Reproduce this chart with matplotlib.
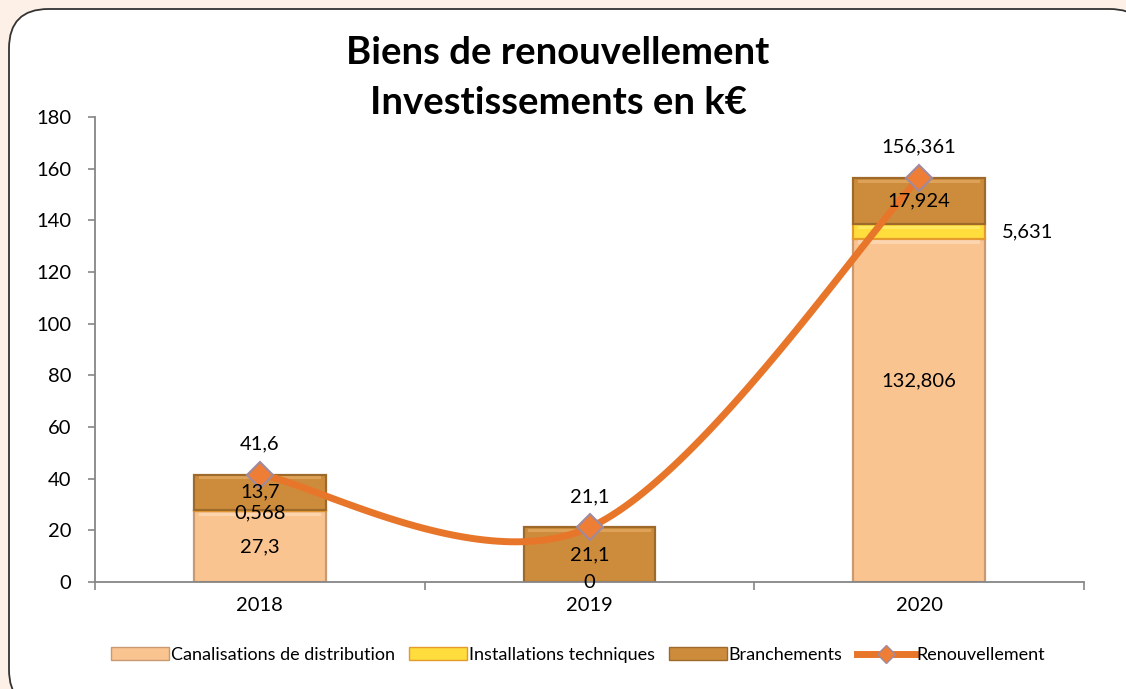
import matplotlib
matplotlib.use("Agg")
import matplotlib.pyplot as plt
import numpy as np
from matplotlib.patches import FancyBboxPatch, Patch
from matplotlib.lines import Line2D

plt.rcParams['font.family'] = ['Lato', 'DejaVu Sans']

years = ["2018", "2019", "2020"]
canalisations = [27.3, 0.0, 132.806]
installations = [0.568, 0.0, 5.631]
branchements = [13.7, 21.1, 17.924]
renouvellement = [41.6, 21.1, 156.361]

lab_can = ["27,3", "0", "132,806"]
lab_inst = ["0,568", "", "5,631"]
lab_br = ["13,7", "21,1", "17,924"]
lab_tot = ["41,6", "21,1", "156,361"]

c_can = "#FAC491"
c_inst = "#FFDD3C"
c_br = "#CD8C3C"
c_line = "#E8762A"

fig = plt.figure(figsize=(11.26, 6.89), dpi=100, facecolor="#FDF0E7")
box = FancyBboxPatch((9/1126, -20/689), 1140/1126, 700/689,
                     boxstyle="round,pad=0,rounding_size=0.035",
                     transform=fig.transFigure, facecolor="white",
                     edgecolor="#333333", linewidth=1.3, zorder=-5,
                     mutation_aspect=1126/689)
fig.patches.append(box)

ax = fig.add_axes([95/1126, 107/689, (1084-95)/1126, (582-117)/689])
ax.set_zorder(2)
ax.set_facecolor("none")
x = np.arange(len(years))
w = 0.4

can = np.array(canalisations)
inst = np.array(installations)
br = np.array(branchements)

def bevel_bar(xs, h, bottom, face, dark, light):
    # outer (dark edge) then inner lighter highlight band at top
    ax.bar(xs, h, w, bottom=bottom, color=face, edgecolor=dark, linewidth=1.6, zorder=2)
    hh = np.where(h > 3, 1.2, 0)
    ax.bar(xs, hh, w * 0.93, bottom=bottom + h - hh - 0.6, color=light, linewidth=0, zorder=2.1, alpha=0.6)

bevel_bar(x, can, np.zeros_like(can), c_can, "#C99A72", "#FFE2C4")
bevel_bar(x, inst, can, c_inst, "#E59A2E", "#FFF27A")
bevel_bar(x, br, can + inst, c_br, "#9E6A2C", "#E8B06A")

# smoothed line (Catmull-Rom / Bezier like Excel)
def smooth(xs, ys, n=60):
    pts = np.column_stack([xs, ys]).astype(float)
    out = []
    for i in range(len(pts) - 1):
        p0 = pts[i - 1] if i > 0 else pts[i]
        p1 = pts[i]
        p2 = pts[i + 1]
        p3 = pts[i + 2] if i + 2 < len(pts) else pts[i + 1]
        c1 = p1 + (p2 - p0) / 6
        c2 = p2 - (p3 - p1) / 6
        t = np.linspace(0, 1, n)[:, None]
        b = ((1 - t) ** 3) * p1 + 3 * ((1 - t) ** 2) * t * c1 + 3 * (1 - t) * t ** 2 * c2 + t ** 3 * p2
        out.append(b if i == 0 else b[1:])
    out = np.vstack(out)
    return out[:, 0], out[:, 1]

sx, sy = smooth(x, renouvellement)
ax.plot(sx, sy, color=c_line, linewidth=5, solid_capstyle="round", zorder=4)
ax.plot(x, renouvellement, linestyle="none", marker="D", markersize=13,
        markerfacecolor="#EE7E35", markeredgecolor="#9F8A9E", markeredgewidth=1.5, zorder=5)

fs = 14.5
for i in range(len(years)):
    if can[i] > 0:
        yc = can[i] / 2 if can[i] < 100 else can[i] * 0.587
        ax.text(x[i], yc, lab_can[i], ha="center", va="center", fontsize=fs, zorder=6)
    else:
        ax.text(x[i], 0, lab_can[i], ha="center", va="center", fontsize=fs, zorder=6)
    if lab_inst[i]:
        if inst[i] > 3:
            ax.text(x[i] + w / 2 + 0.05, can[i] + inst[i] / 2, lab_inst[i], ha="left", va="center", fontsize=fs, zorder=6)
        else:
            ax.text(x[i], can[i] + inst[i] / 2 - 1.0, lab_inst[i], ha="center", va="center", fontsize=fs, zorder=6)
    yb = can[i] + inst[i] + br[i] / 2
    ax.text(x[i], yb, lab_br[i], ha="center", va="center", fontsize=fs, zorder=6)
    ax.text(x[i], renouvellement[i] + 12, lab_tot[i], ha="center", va="center", fontsize=fs, zorder=6)

ax.set_xlim(-0.5, 2.5)
ax.set_ylim(0, 180)
ax.set_yticks(np.arange(0, 181, 20))
ax.set_xticks(x)
ax.set_xticklabels(years)
ax.set_xticks([-0.5, 0.5, 1.5, 2.5], minor=True)
ax.tick_params(axis="x", which="major", length=0, pad=11, labelsize=14.5)
ax.tick_params(axis="x", which="minor", length=6, color="#868686", width=1.2)
ax.tick_params(axis="y", length=5, color="#868686", width=1.2, labelsize=14.5, pad=12)
for s in ["top", "right"]:
    ax.spines[s].set_visible(False)
for s in ["left", "bottom"]:
    ax.spines[s].set_color("#868686")
    ax.spines[s].set_linewidth(1.3)

fig.text(558/1126, 1 - 53/689, "Biens de renouvellement", ha="center", va="center",
         fontsize=27.5, fontweight="bold")
fig.text(558/1126, 1 - 103/689, "Investissements en k€", ha="center", va="center",
         fontsize=27.5, fontweight="bold")

handles = [Patch(facecolor=c_can, edgecolor="#C99A72"),
           Patch(facecolor=c_inst, edgecolor="#E59A2E"),
           Patch(facecolor=c_br, edgecolor="#9E6A2C"),
           Line2D([0], [0], color=c_line, linewidth=5, marker="D", markersize=9,
                  markerfacecolor="#EE7E35", markeredgecolor="#9F8A9E")]
labels = ["Canalisations de distribution", "Installations techniques", "Branchements", "Renouvellement"]
fig.legend(handles, labels, loc="center", bbox_to_anchor=(578/1126, 1 - 655/689), ncol=4,
           frameon=False, fontsize=13, handlelength=3.2, handleheight=0.7,
           handletextpad=0.1, columnspacing=0.8)

fig.savefig("out.png", dpi=100, facecolor=fig.get_facecolor())
